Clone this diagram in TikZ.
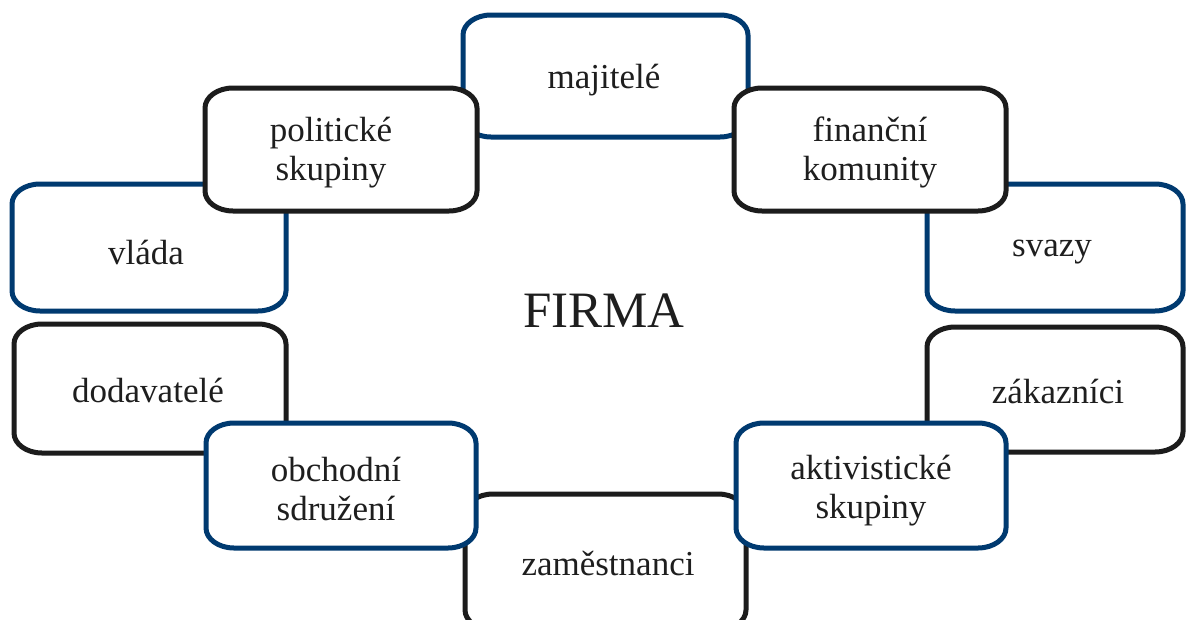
\documentclass[tikz,border=0pt]{standalone}
\usepackage{fontspec}
\setmainfont{Liberation Serif}
\definecolor{bxblue}{RGB}{0,58,112}
\definecolor{bxblack}{RGB}{28,28,28}
\definecolor{txt}{RGB}{30,30,30}
\newcommand\rbox[5]{%
  \filldraw[fill=white, draw=#5, line width=5pt, line join=round]
    ({#1+28},#2) -- ({#3-28},#2)
    .. controls ({#3-12.5},#2) and (#3,{#2+9}) .. (#3,{#2+20})
    -- (#3,{#4-20})
    .. controls (#3,{#4-9}) and ({#3-12.5},#4) .. ({#3-28},#4)
    -- ({#1+28},#4)
    .. controls ({#1+12.5},#4) and (#1,{#4-9}) .. (#1,{#4-20})
    -- (#1,{#2+20})
    .. controls (#1,{#2+9}) and ({#1+12.5},#2) .. cycle;}
\tikzset{
  lbl/.style={text=txt, align=center, font=\fontsize{35}{39}\selectfont, inner sep=0pt},
  big/.style={text=txt, font=\fontsize{51}{56}\selectfont, inner sep=0pt}
}
\begin{document}
\begin{tikzpicture}[x=1pt, y=-1pt]
\useasboundingbox[fill=white] (0,0) rectangle (1186,619);
% background boxes
\rbox{463}{15}{748}{137}{bxblue}
\node[lbl] (maj) at (604,80) {majitelé};
\rbox{12}{184}{286}{311}{bxblue}
\node[lbl] (vla) at (146,252) {vláda};
\rbox{927}{184}{1183}{311}{bxblue}
\node[lbl] (sva) at (1052,252) {svazy};
\rbox{14}{324}{286}{453}{bxblack}
\node[lbl] (dod) at (148,390) {dodavatelé};
\rbox{927}{327}{1183}{452}{bxblack}
\node[lbl] (zak) at (1058,391) {zákazníci};
\rbox{465}{494}{746}{630}{bxblack}
\node[lbl] (zam) at (608,563) {zaměstnanci};
% front boxes
\rbox{205}{88}{477}{211}{bxblack}
\node[lbl] (pol) at (331,153) {politické\\skupiny};
\rbox{734}{88}{1006}{211}{bxblack}
\node[lbl] (fin) at (870,152) {finanční\\komunity};
\rbox{206}{423}{476}{548}{bxblue}
\node[lbl] (obc) at (336,489) {obchodní\\sdružení};
\rbox{736}{423}{1006}{548}{bxblue}
\node[lbl] (akt) at (871,491) {aktivistické\\skupiny};
% centre
\node[big] (firma) at (604,311) {FIRMA};
\end{tikzpicture}
\end{document}
